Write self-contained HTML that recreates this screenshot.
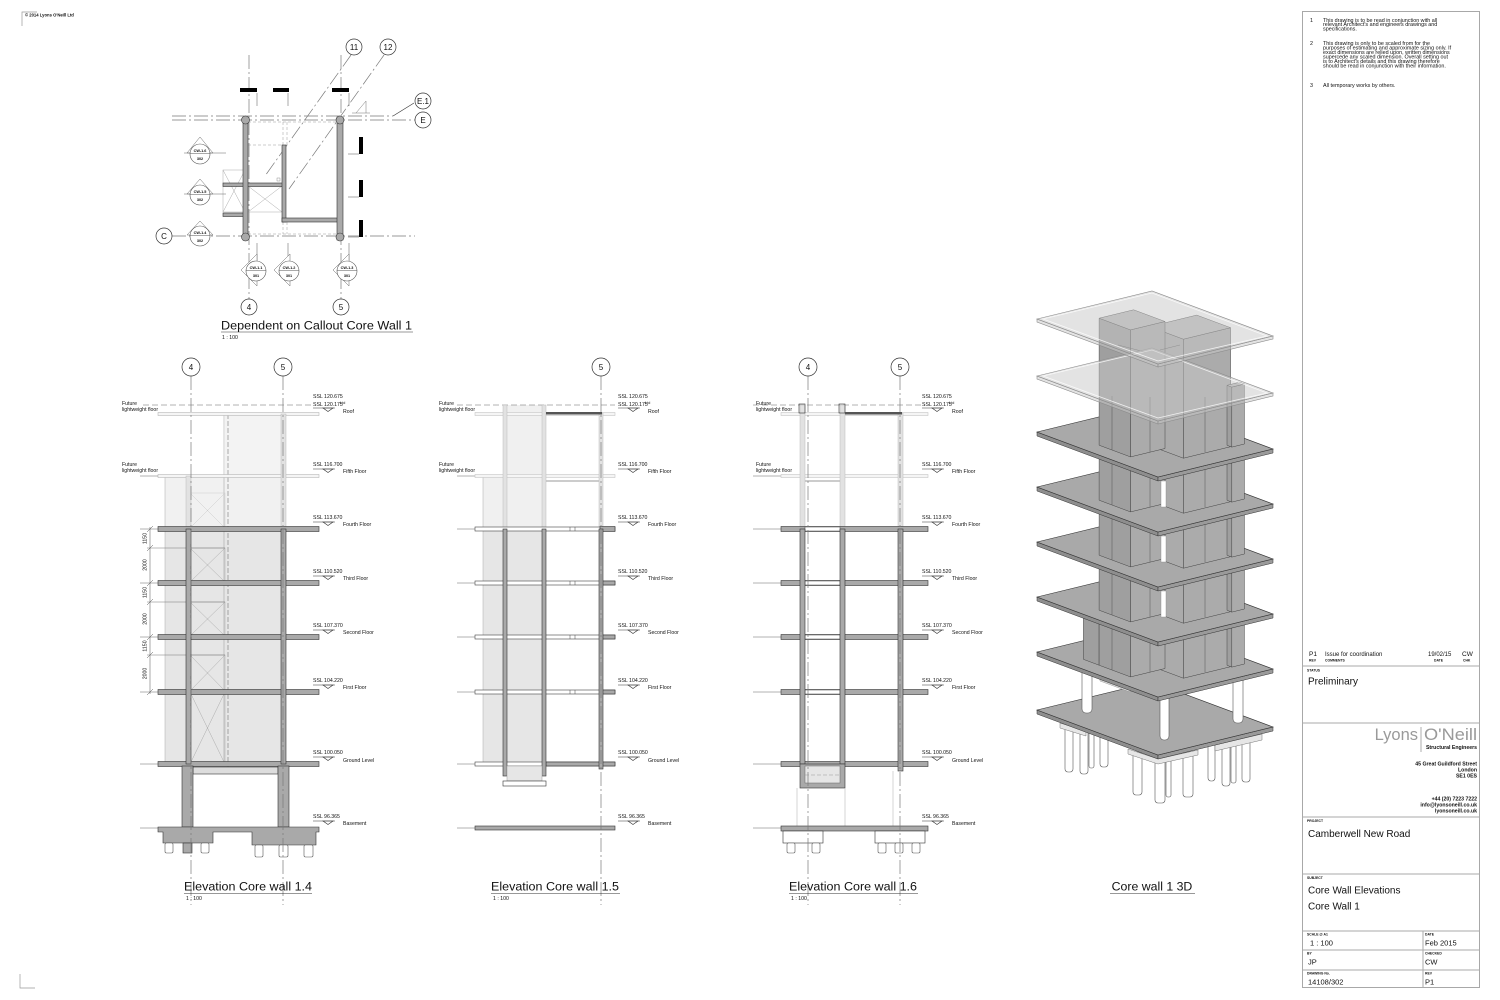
<!DOCTYPE html>
<html><head><meta charset="utf-8">
<style>
html,body{margin:0;padding:0;background:#fff;}
svg{display:block;}
text{font-family:"Liberation Sans",Arial,sans-serif;fill:#111;}
.g{stroke:#7a7a7a;stroke-width:0.7;fill:none;stroke-dasharray:14 3 2 3;}
.s{font-size:5.2px;}
.ln{stroke:#333;stroke-width:0.6;fill:none;}
.lt{stroke:#aaa;stroke-width:0.5;fill:none;}
.sl{fill:#a9a9a9;stroke:#333;stroke-width:0.6;}
.lw{fill:#e2e2e2;stroke:#bbb;stroke-width:0.5;}
.bub{fill:#fff;stroke:#333;stroke-width:0.7;}
.bt{font-size:8px;text-anchor:middle;}
.tiny{font-size:3.4px;font-weight:bold;}
.cw{font-size:3.8px;font-weight:bold;text-anchor:middle;}
.pile{fill:#fff;stroke:#555;stroke-width:0.6;}
.x{stroke:#aaa;stroke-width:0.5;fill:none;}
.st{fill:#a9a9a9;stroke:#333;stroke-width:0.6;}
.sf1{fill:#8e8e8e;stroke:#333;stroke-width:0.5;}
.sf2{fill:#9a9a9a;stroke:#333;stroke-width:0.5;}
.cA{fill:#9f9f9f;stroke:#444;stroke-width:0.5;}
.cB{fill:#ababab;stroke:#444;stroke-width:0.5;}
.cT{fill:#bdbdbd;stroke:#444;stroke-width:0.5;}
.tr{fill:#c8c8c8;fill-opacity:0.5;stroke:#8c8c8c;stroke-width:0.6;}
.tn{fill:none;stroke:#fff;stroke-width:0.8;stroke-opacity:0.8;}
.tw{stroke:#fff;stroke-width:0.6;fill:none;}
</style></head><body>
<svg width="1500" height="1000" viewBox="0 0 1500 1000" xmlns="http://www.w3.org/2000/svg">
<rect width="1500" height="1000" fill="#fff"/>

<!-- corner marks -->
<polyline points="22,26 22,12 37,12" fill="none" stroke="#999" stroke-width="0.7"/>
<text x="25" y="16.5" font-size="4.2" font-weight="bold">© 2014 Lyons O'Neill Ltd</text>
<polyline points="20,974 20,988 35,988" fill="none" stroke="#999" stroke-width="0.7"/>

<!-- ================= PLAN ================= -->
<g>
<line class="g" x1="172" y1="116" x2="393" y2="116"/>
<line class="ln" x1="393" y1="116" x2="414" y2="103"/>
<line class="g" x1="172" y1="120" x2="415" y2="120"/>
<line class="g" x1="172" y1="236" x2="415" y2="236"/>
<line class="g" x1="249" y1="55" x2="249" y2="299"/>
<line class="g" x1="341" y1="55" x2="341" y2="299"/>
<line class="g" x1="351" y1="55" x2="265" y2="176"/>
<line class="g" x1="384" y1="55" x2="289" y2="189"/>

<!-- interior dashed -->
<g stroke="#999" stroke-width="0.5" stroke-dasharray="3 2" fill="none">
<line x1="248" y1="122" x2="337" y2="122"/>
<line x1="248" y1="234" x2="337" y2="234"/>
<line x1="248" y1="145" x2="282" y2="145"/>
<line x1="283" y1="122" x2="283" y2="145"/>
<line x1="287" y1="122" x2="287" y2="145"/>
<line x1="283" y1="222" x2="283" y2="234"/>
<line x1="287" y1="222" x2="287" y2="234"/>
</g>
<!-- X boxes -->
<rect class="x" x="223" y="170" width="22" height="42"/>
<line class="x" x1="223" y1="170" x2="245" y2="212"/>
<line class="x" x1="245" y1="170" x2="223" y2="212"/>
<rect class="x" x="248" y="186" width="34" height="26"/>
<line class="x" x1="248" y1="186" x2="282" y2="212"/>
<line class="x" x1="282" y1="186" x2="248" y2="212"/>
<rect x="277" y="178" width="3" height="3" fill="none" stroke="#777" stroke-width="0.4"/>
<!-- walls -->
<rect class="sl" x="223" y="183" width="62" height="3.5"/>
<rect class="sl" x="223" y="213" width="22" height="3.5"/>
<rect class="sl" x="282" y="145" width="4" height="77"/>
<rect class="sl" x="282" y="218" width="58" height="4"/>
<rect class="sl" x="243" y="117" width="5" height="123"/>
<rect class="sl" x="337" y="117" width="6" height="123"/>
<circle cx="245.5" cy="120" r="4" class="sl"/>
<circle cx="245.5" cy="237" r="4" class="sl"/>
<circle cx="340" cy="120" r="4" class="sl"/>
<circle cx="340" cy="237" r="4" class="sl"/>
<!-- black bars -->
<rect x="240" y="88" width="17" height="4" fill="#000"/>
<rect x="273" y="88" width="16" height="4" fill="#000"/>
<rect x="332" y="88" width="17" height="4" fill="#000"/>
<rect x="359" y="137" width="4" height="17" fill="#000"/>
<rect x="359" y="180" width="4" height="17" fill="#000"/>
<rect x="359" y="220" width="4" height="17" fill="#000"/>
<g stroke="#555" stroke-width="0.5">
<line x1="257" y1="93" x2="257" y2="106"/>
<line x1="288" y1="93" x2="288" y2="106"/>
<line x1="349" y1="93" x2="349" y2="106"/>
<line x1="348" y1="154" x2="359" y2="154"/>
<line x1="348" y1="197" x2="359" y2="197"/>
<line x1="348" y1="237" x2="359" y2="237"/>
<line x1="257" y1="243" x2="257" y2="262"/>
<line x1="288" y1="243" x2="288" y2="262"/>
<line x1="349" y1="243" x2="349" y2="262"/>
</g>
<polyline points="356,113 366,101 366,113" fill="none" stroke="#777" stroke-width="0.5"/>
<line x1="352" y1="113" x2="370" y2="113" stroke="#777" stroke-width="0.5"/>

<!-- section markers left -->
<g>
<polygon points="187,153 200,137 213,153" fill="#fff" stroke="#666" stroke-width="0.5"/>
<line x1="184" y1="153" x2="226" y2="153" stroke="#666" stroke-width="0.5"/>
<circle cx="200" cy="154" r="10" fill="#fff" stroke="#555" stroke-width="0.6"/>
<line x1="190" y1="153.5" x2="210" y2="153.5" stroke="#555" stroke-width="0.5"/>
<text class="cw" x="200" y="152">CW-1.6</text><text class="cw" x="200" y="160">302</text>

<polygon points="187,194 200,179 213,194" fill="#fff" stroke="#666" stroke-width="0.5"/>
<line x1="184" y1="194" x2="226" y2="194" stroke="#666" stroke-width="0.5"/>
<circle cx="200" cy="195" r="10" fill="#fff" stroke="#555" stroke-width="0.6"/>
<line x1="190" y1="194.5" x2="210" y2="194.5" stroke="#555" stroke-width="0.5"/>
<text class="cw" x="200" y="193">CW-1.5</text><text class="cw" x="200" y="201">302</text>

<polygon points="187,235 200,221 213,235" fill="#fff" stroke="#666" stroke-width="0.5"/>
<circle cx="200" cy="236" r="10" fill="#fff" stroke="#555" stroke-width="0.6"/>
<line x1="190" y1="235.5" x2="210" y2="235.5" stroke="#555" stroke-width="0.5"/>
<text class="cw" x="200" y="234">CW-1.4</text><text class="cw" x="200" y="242">302</text>
</g>
<!-- section markers bottom -->
<g>
<polygon points="241,270 257,254 257,286" fill="#fff" stroke="#666" stroke-width="0.5"/>
<circle cx="256" cy="271" r="10" fill="#fff" stroke="#555" stroke-width="0.6"/>
<line x1="246" y1="270.5" x2="266" y2="270.5" stroke="#555" stroke-width="0.5"/>
<text class="cw" x="256" y="269">CW-1.1</text><text class="cw" x="256" y="277">301</text>

<polygon points="274,270 290,254 290,286" fill="#fff" stroke="#666" stroke-width="0.5"/>
<circle cx="289" cy="271" r="10" fill="#fff" stroke="#555" stroke-width="0.6"/>
<line x1="279" y1="270.5" x2="299" y2="270.5" stroke="#555" stroke-width="0.5"/>
<text class="cw" x="289" y="269">CW-1.2</text><text class="cw" x="289" y="277">301</text>

<polygon points="333,270 349,254 349,286" fill="#fff" stroke="#666" stroke-width="0.5"/>
<circle cx="347" cy="271" r="10" fill="#fff" stroke="#555" stroke-width="0.6"/>
<line x1="337" y1="270.5" x2="357" y2="270.5" stroke="#555" stroke-width="0.5"/>
<text class="cw" x="347" y="269">CW-1.3</text><text class="cw" x="347" y="277">301</text>
</g>
<!-- plan bubbles -->
<circle class="bub" cx="354" cy="47" r="8"/><text class="bt" x="354" y="50">11</text>
<circle class="bub" cx="388" cy="47" r="8"/><text class="bt" x="388" y="50">12</text>
<circle class="bub" cx="423" cy="101" r="8"/><text class="bt" x="423" y="104">E.1</text>
<circle class="bub" cx="423" cy="120" r="8"/><text class="bt" x="423" y="123">E</text>
<circle class="bub" cx="164" cy="236" r="8"/><text class="bt" x="164" y="239">C</text>
<circle class="bub" cx="249" cy="307" r="8"/><text class="bt" x="249" y="310">4</text>
<circle class="bub" cx="341" cy="307" r="8"/><text class="bt" x="341" y="310">5</text>

<text x="221" y="329.5" font-size="12.3" textLength="191" lengthAdjust="spacingAndGlyphs">Dependent on Callout Core Wall 1</text>
<line x1="221" y1="332" x2="413" y2="332" stroke="#333" stroke-width="0.6"/>
<text class="s" x="222" y="339">1 : 100</text>
</g>

<!-- ================= ELEVATION 1.4 ================= -->
<g>
<rect x="225" y="414" width="58" height="62" fill="#f3f3f3"/>
<rect x="165" y="476" width="118" height="53" fill="#f1f1f1"/>
<rect x="165" y="529" width="118" height="235" fill="#e6e6e6"/>
<line class="lt" x1="165" y1="476" x2="165" y2="764"/>
<line x1="224" y1="414" x2="224" y2="764" stroke="#999" stroke-width="0.5"/>
<line x1="228" y1="414" x2="228" y2="772" stroke="#777" stroke-width="0.6" stroke-dasharray="5 2"/>
<!-- X boxes -->
<g class="x">
<rect x="190" y="493" width="35" height="35" stroke="#ccc"/>
<line x1="190" y1="493" x2="225" y2="528" stroke="#ccc"/><line x1="225" y1="493" x2="190" y2="528" stroke="#ccc"/>
<rect x="190" y="548" width="35" height="34"/>
<line x1="190" y1="548" x2="225" y2="582"/><line x1="225" y1="548" x2="190" y2="582"/>
<rect x="190" y="602" width="35" height="34"/>
<line x1="190" y1="602" x2="225" y2="636"/><line x1="225" y1="602" x2="190" y2="636"/>
<rect x="190" y="655" width="35" height="36"/>
<line x1="190" y1="655" x2="225" y2="691"/><line x1="225" y1="655" x2="190" y2="691"/>
<rect x="190" y="692" width="35" height="72"/>
<line x1="190" y1="692" x2="225" y2="764"/><line x1="225" y1="692" x2="190" y2="764"/>
</g>
<!-- dimension -->
<g stroke="#555" stroke-width="0.5">
<line x1="150" y1="527" x2="150" y2="694"/>
<line x1="147" y1="548" x2="225" y2="548" stroke="#777"/>
<line x1="147" y1="602" x2="225" y2="602" stroke="#777"/>
<line x1="147" y1="655" x2="225" y2="655" stroke="#777"/>
<line x1="147" y1="532" x2="153" y2="526"/>
<line x1="147" y1="551" x2="153" y2="545"/>
<line x1="147" y1="586" x2="153" y2="580"/>
<line x1="147" y1="605" x2="153" y2="599"/>
<line x1="147" y1="640" x2="153" y2="634"/>
<line x1="147" y1="658" x2="153" y2="652"/>
<line x1="147" y1="695" x2="153" y2="689"/>
</g>
<g class="s" text-anchor="middle">
<text transform="translate(146.5,538.5) rotate(-90)">1150</text>
<text transform="translate(146.5,565) rotate(-90)">2000</text>
<text transform="translate(146.5,592.5) rotate(-90)">1150</text>
<text transform="translate(146.5,619) rotate(-90)">2000</text>
<text transform="translate(146.5,646) rotate(-90)">1150</text>
<text transform="translate(146.5,673.5) rotate(-90)">2000</text>
</g>
<!-- level extension lines -->
<g stroke="#666" stroke-width="0.5">
<line x1="140" y1="529" x2="158" y2="529"/>
<line x1="140" y1="583" x2="158" y2="583"/>
<line x1="140" y1="637" x2="158" y2="637"/>
<line x1="140" y1="692" x2="158" y2="692"/>
<line x1="140" y1="764" x2="158" y2="764"/>
<line x1="140" y1="828" x2="158" y2="828"/>
</g>
<line x1="143" y1="405" x2="313" y2="405" stroke="#666" stroke-width="0.5" stroke-dasharray="6 3"/>
<!-- light slabs -->
<rect x="158" y="412.5" width="161" height="3" fill="#f5f5f5" stroke="#aaa" stroke-width="0.5"/>
<rect x="158" y="474.5" width="161" height="3" fill="#f5f5f5" stroke="#aaa" stroke-width="0.5"/>
<!-- upper light walls -->
<rect class="lw" x="186" y="476" width="5" height="53"/>
<rect class="lw" x="281" y="414" width="5" height="115"/>
<!-- slabs -->
<rect class="sl" x="158" y="526.5" width="161" height="5"/>
<rect class="sl" x="158" y="580.5" width="161" height="5"/>
<rect class="sl" x="158" y="634.5" width="161" height="5"/>
<rect class="sl" x="158" y="689.5" width="161" height="5"/>
<rect class="sl" x="158" y="761.5" width="161" height="5"/>
<!-- walls -->
<rect class="sl" x="186" y="529" width="5" height="235"/>
<rect class="sl" x="281" y="529" width="5" height="235"/>
<!-- basement structure -->
<rect x="193" y="767" width="85" height="7" fill="#ddd" stroke="#333" stroke-width="0.6"/>
<rect class="sl" x="182" y="766" width="11" height="61"/>
<rect class="sl" x="278" y="766" width="11" height="61"/>
<polygon class="sl" points="158,827 319,827 319,832 316,832 316,845 252,845 252,832 213,832 213,843 163,843 163,832 158,832"/>
<rect class="pile" x="165" y="843" width="8" height="10" rx="1.5"/>
<rect class="sl" x="183" y="843" width="9" height="10"/>
<rect class="pile" x="201" y="843" width="8" height="10" rx="1.5"/>
<rect class="pile" x="255" y="845" width="8" height="12" rx="1.5"/>
<rect class="pile" x="279" y="845" width="9" height="12" rx="1.5"/>
<rect class="pile" x="304" y="845" width="9" height="12" rx="1.5"/>
<!-- grid -->
<line class="g" x1="191" y1="376" x2="191" y2="905"/>
<line class="g" x1="283" y1="376" x2="283" y2="905"/>
<circle class="bub" cx="191" cy="367" r="9"/><text class="bt" x="191" y="370">4</text>
<circle class="bub" cx="283" cy="367" r="9"/><text class="bt" x="283" y="370">5</text>
<!-- future text -->
<text class="s" x="122" y="405">Future</text>
<text class="s" x="122" y="411">lightweight floor</text>
<text class="s" x="122" y="466">Future</text>
<text class="s" x="122" y="472">lightweight floor</text>
<line x1="140" y1="476" x2="158" y2="476" stroke="#666" stroke-width="0.5"/>
<!-- title -->
<text x="184" y="890.5" font-size="12.3" textLength="128" lengthAdjust="spacingAndGlyphs">Elevation Core wall 1.4</text>
<line x1="184" y1="893.5" x2="312" y2="893.5" stroke="#333" stroke-width="0.6"/>
<text class="s" x="186" y="900">1 : 100</text>
</g>

<!-- level label sets -->
<g id="lv14">
<text class="s" x="313" y="398">SSL 120.675</text>
<text class="s" x="313" y="406">SSL 120.175</text>
<text x="340" y="404" font-size="4">Lid</text>
<line class="ln" x1="313" y1="408" x2="335" y2="408"/>
<path class="ln" d="M323,408 L333,408 L328,411.5 Z"/>
<text class="s" x="343" y="413">Roof</text>

<text class="s" x="313" y="466">SSL 116.700</text>
<line class="ln" x1="313" y1="469" x2="335" y2="469"/>
<path class="ln" d="M323,469 L333,469 L328,472.5 Z"/>
<text class="s" x="343" y="473">Fifth Floor</text>

<text class="s" x="313" y="519">SSL 113.670</text>
<line class="ln" x1="313" y1="522" x2="335" y2="522"/>
<path class="ln" d="M323,522 L333,522 L328,525.5 Z"/>
<text class="s" x="343" y="526">Fourth Floor</text>

<text class="s" x="313" y="573">SSL 110.520</text>
<line class="ln" x1="313" y1="576" x2="335" y2="576"/>
<path class="ln" d="M323,576 L333,576 L328,579.5 Z"/>
<text class="s" x="343" y="580">Third Floor</text>

<text class="s" x="313" y="627">SSL 107.370</text>
<line class="ln" x1="313" y1="630" x2="335" y2="630"/>
<path class="ln" d="M323,630 L333,630 L328,633.5 Z"/>
<text class="s" x="343" y="634">Second Floor</text>

<text class="s" x="313" y="682">SSL 104.220</text>
<line class="ln" x1="313" y1="685" x2="335" y2="685"/>
<path class="ln" d="M323,685 L333,685 L328,688.5 Z"/>
<text class="s" x="343" y="689">First Floor</text>

<text class="s" x="313" y="754">SSL 100.050</text>
<line class="ln" x1="313" y1="757" x2="335" y2="757"/>
<path class="ln" d="M323,757 L333,757 L328,760.5 Z"/>
<text class="s" x="343" y="762">Ground Level</text>

<text class="s" x="313" y="818">SSL 96.365</text>
<line class="ln" x1="313" y1="821" x2="335" y2="821"/>
<path class="ln" d="M323,821 L333,821 L328,824.5 Z"/>
<text class="s" x="343" y="825">Basement</text>
</g>

<g transform="translate(305,0)">
<text class="s" x="313" y="398">SSL 120.675</text>
<text class="s" x="313" y="406">SSL 120.175</text>
<text x="340" y="404" font-size="4">Lid</text>
<line class="ln" x1="313" y1="408" x2="335" y2="408"/>
<path class="ln" d="M323,408 L333,408 L328,411.5 Z"/>
<text class="s" x="343" y="413">Roof</text>
<text class="s" x="313" y="466">SSL 116.700</text>
<line class="ln" x1="313" y1="469" x2="335" y2="469"/>
<path class="ln" d="M323,469 L333,469 L328,472.5 Z"/>
<text class="s" x="343" y="473">Fifth Floor</text>
<text class="s" x="313" y="519">SSL 113.670</text>
<line class="ln" x1="313" y1="522" x2="335" y2="522"/>
<path class="ln" d="M323,522 L333,522 L328,525.5 Z"/>
<text class="s" x="343" y="526">Fourth Floor</text>
<text class="s" x="313" y="573">SSL 110.520</text>
<line class="ln" x1="313" y1="576" x2="335" y2="576"/>
<path class="ln" d="M323,576 L333,576 L328,579.5 Z"/>
<text class="s" x="343" y="580">Third Floor</text>
<text class="s" x="313" y="627">SSL 107.370</text>
<line class="ln" x1="313" y1="630" x2="335" y2="630"/>
<path class="ln" d="M323,630 L333,630 L328,633.5 Z"/>
<text class="s" x="343" y="634">Second Floor</text>
<text class="s" x="313" y="682">SSL 104.220</text>
<line class="ln" x1="313" y1="685" x2="335" y2="685"/>
<path class="ln" d="M323,685 L333,685 L328,688.5 Z"/>
<text class="s" x="343" y="689">First Floor</text>
<text class="s" x="313" y="754">SSL 100.050</text>
<line class="ln" x1="313" y1="757" x2="335" y2="757"/>
<path class="ln" d="M323,757 L333,757 L328,760.5 Z"/>
<text class="s" x="343" y="762">Ground Level</text>
<text class="s" x="313" y="818">SSL 96.365</text>
<line class="ln" x1="313" y1="821" x2="335" y2="821"/>
<path class="ln" d="M323,821 L333,821 L328,824.5 Z"/>
<text class="s" x="343" y="825">Basement</text>
</g>

<g transform="translate(609,0)">
<text class="s" x="313" y="398">SSL 120.675</text>
<text class="s" x="313" y="406">SSL 120.175</text>
<text x="340" y="404" font-size="4">Lid</text>
<line class="ln" x1="313" y1="408" x2="335" y2="408"/>
<path class="ln" d="M323,408 L333,408 L328,411.5 Z"/>
<text class="s" x="343" y="413">Roof</text>
<text class="s" x="313" y="466">SSL 116.700</text>
<line class="ln" x1="313" y1="469" x2="335" y2="469"/>
<path class="ln" d="M323,469 L333,469 L328,472.5 Z"/>
<text class="s" x="343" y="473">Fifth Floor</text>
<text class="s" x="313" y="519">SSL 113.670</text>
<line class="ln" x1="313" y1="522" x2="335" y2="522"/>
<path class="ln" d="M323,522 L333,522 L328,525.5 Z"/>
<text class="s" x="343" y="526">Fourth Floor</text>
<text class="s" x="313" y="573">SSL 110.520</text>
<line class="ln" x1="313" y1="576" x2="335" y2="576"/>
<path class="ln" d="M323,576 L333,576 L328,579.5 Z"/>
<text class="s" x="343" y="580">Third Floor</text>
<text class="s" x="313" y="627">SSL 107.370</text>
<line class="ln" x1="313" y1="630" x2="335" y2="630"/>
<path class="ln" d="M323,630 L333,630 L328,633.5 Z"/>
<text class="s" x="343" y="634">Second Floor</text>
<text class="s" x="313" y="682">SSL 104.220</text>
<line class="ln" x1="313" y1="685" x2="335" y2="685"/>
<path class="ln" d="M323,685 L333,685 L328,688.5 Z"/>
<text class="s" x="343" y="689">First Floor</text>
<text class="s" x="313" y="754">SSL 100.050</text>
<line class="ln" x1="313" y1="757" x2="335" y2="757"/>
<path class="ln" d="M323,757 L333,757 L328,760.5 Z"/>
<text class="s" x="343" y="762">Ground Level</text>
<text class="s" x="313" y="818">SSL 96.365</text>
<line class="ln" x1="313" y1="821" x2="335" y2="821"/>
<path class="ln" d="M323,821 L333,821 L328,824.5 Z"/>
<text class="s" x="343" y="825">Basement</text>
</g>

<!-- ================= ELEVATION 1.5 ================= -->
<g>
<rect x="483" y="529" width="62" height="235" fill="#e6e6e6"/>
<rect x="483" y="476" width="62" height="53" fill="#f0f0f0"/>
<rect x="503" y="405" width="42" height="71" fill="#f0f0f0"/>
<line class="lt" x1="483" y1="476" x2="483" y2="764"/>
<g stroke="#666" stroke-width="0.5">
<line x1="457" y1="529" x2="475" y2="529"/>
<line x1="457" y1="583" x2="475" y2="583"/>
<line x1="457" y1="637" x2="475" y2="637"/>
<line x1="457" y1="692" x2="475" y2="692"/>
<line x1="457" y1="764" x2="475" y2="764"/>
<line x1="457" y1="828" x2="475" y2="828"/>
<line x1="457" y1="476" x2="475" y2="476"/>
</g>
<line x1="457" y1="405" x2="615" y2="405" stroke="#666" stroke-width="0.5" stroke-dasharray="6 3"/>
<rect x="475" y="412.5" width="140" height="3" fill="#f5f5f5" stroke="#bbb" stroke-width="0.5"/>
<rect x="475" y="474.5" width="140" height="3" fill="#f5f5f5" stroke="#bbb" stroke-width="0.5"/>
<line x1="546" y1="481" x2="599" y2="481" stroke="#bbb" stroke-width="1.5"/>
<rect class="lw" x="503" y="405" width="4" height="124"/>
<rect class="lw" x="542" y="405" width="4" height="124"/>
<rect class="lw" x="599" y="413" width="4" height="116"/>
<rect x="546" y="412" width="56" height="2.5" fill="#555"/>
<!-- slabs -->
<g>
<rect x="475" y="527" width="140" height="4" fill="#fff" stroke="#444" stroke-width="0.6"/>
<rect x="475" y="581" width="140" height="4" fill="#fff" stroke="#444" stroke-width="0.6"/>
<rect x="475" y="635" width="140" height="4" fill="#fff" stroke="#444" stroke-width="0.6"/>
<rect x="475" y="690" width="140" height="4" fill="#fff" stroke="#444" stroke-width="0.6"/>
<rect x="475" y="762" width="140" height="4" fill="#fff" stroke="#444" stroke-width="0.6"/>
<rect class="sl" x="600" y="526.5" width="15" height="5"/>
<rect class="sl" x="600" y="581" width="15" height="4"/>
<rect class="sl" x="600" y="635" width="15" height="4"/>
<rect class="sl" x="600" y="690" width="15" height="4"/>
<rect class="sl" x="546" y="762" width="69" height="4"/>
</g>
<g stroke="#444" stroke-width="0.5">
<line x1="570" y1="527" x2="570" y2="531"/><line x1="575" y1="527" x2="575" y2="531"/>
<line x1="570" y1="581" x2="570" y2="585"/><line x1="575" y1="581" x2="575" y2="585"/>
<line x1="570" y1="635" x2="570" y2="639"/><line x1="575" y1="635" x2="575" y2="639"/>
<line x1="570" y1="690" x2="570" y2="694"/><line x1="575" y1="690" x2="575" y2="694"/>
</g>
<rect class="sl" x="503" y="529" width="4" height="247"/>
<rect class="sl" x="542" y="529" width="4" height="247"/>
<rect class="sl" x="599" y="529" width="4" height="240"/>
<rect x="507" y="766" width="35" height="15" fill="#e6e6e6" stroke="#999" stroke-width="0.5"/>
<rect x="503" y="781" width="43" height="5" fill="#fff" stroke="#333" stroke-width="0.6"/>
<rect class="sl" x="475" y="826" width="140" height="4"/>
<line class="g" x1="601" y1="376" x2="601" y2="905"/>
<circle class="bub" cx="601" cy="367" r="9"/><text class="bt" x="601" y="370">5</text>
<text class="s" x="439" y="405">Future</text>
<text class="s" x="439" y="411">lightweight floor</text>
<text class="s" x="439" y="466">Future</text>
<text class="s" x="439" y="472">lightweight floor</text>
<text x="491" y="890.5" font-size="12.3" textLength="128" lengthAdjust="spacingAndGlyphs">Elevation Core wall 1.5</text>
<line x1="491" y1="893.5" x2="620" y2="893.5" stroke="#333" stroke-width="0.6"/>
<text class="s" x="493" y="900">1 : 100</text>
</g>

<!-- ================= ELEVATION 1.6 ================= -->
<g>
<g stroke="#666" stroke-width="0.5">
<line x1="753" y1="529" x2="781" y2="529"/>
<line x1="753" y1="583" x2="781" y2="583"/>
<line x1="753" y1="637" x2="781" y2="637"/>
<line x1="753" y1="692" x2="781" y2="692"/>
<line x1="753" y1="764" x2="781" y2="764"/>
<line x1="753" y1="828" x2="781" y2="828"/>
<line x1="753" y1="476" x2="781" y2="476"/>
</g>
<line x1="753" y1="405" x2="925" y2="405" stroke="#666" stroke-width="0.5" stroke-dasharray="6 3"/>
<rect x="781" y="412.5" width="147" height="3" fill="#f5f5f5" stroke="#bbb" stroke-width="0.5"/>
<rect x="781" y="474.5" width="147" height="3" fill="#f5f5f5" stroke="#bbb" stroke-width="0.5"/>
<line x1="805" y1="481" x2="840" y2="481" stroke="#bbb" stroke-width="1.5"/>
<rect class="lw" x="800" y="405" width="5" height="124"/>
<rect class="lw" x="840" y="405" width="5" height="124"/>
<rect class="lw" x="898" y="413" width="5" height="116"/>
<rect x="799" y="404" width="6" height="9" fill="none" stroke="#333" stroke-width="0.6"/>
<rect x="839" y="404" width="6" height="9" fill="none" stroke="#333" stroke-width="0.6"/>
<rect x="845" y="412" width="57" height="2.5" fill="#555"/>
<!-- slabs -->
<rect class="sl" x="781" y="526.5" width="147" height="5"/>
<rect class="sl" x="781" y="580.5" width="147" height="5"/>
<rect class="sl" x="781" y="634.5" width="147" height="5"/>
<rect class="sl" x="781" y="689.5" width="147" height="5"/>
<rect class="sl" x="781" y="761.5" width="147" height="5"/>
<rect x="805" y="581" width="35" height="4" fill="#fff" stroke="#444" stroke-width="0.5"/>
<rect x="805" y="635" width="35" height="4" fill="#fff" stroke="#444" stroke-width="0.5"/>
<rect x="805" y="690" width="35" height="4" fill="#fff" stroke="#444" stroke-width="0.5"/>
<rect x="805" y="527" width="35" height="4" fill="#fff" stroke="#444" stroke-width="0.5"/>
<!-- walls -->
<rect class="sl" x="800" y="529" width="5" height="235"/>
<rect class="sl" x="840" y="529" width="5" height="235"/>
<rect class="sl" x="898" y="529" width="5" height="242"/>
<rect class="sl" x="800" y="764" width="45" height="24"/>
<rect x="805" y="766" width="35" height="17" fill="#e6e6e6" stroke="#666" stroke-width="0.5"/>
<line x1="805" y1="775" x2="840" y2="775" stroke="#999" stroke-width="0.5" stroke-dasharray="4 2"/>
<g stroke="#bbb" stroke-width="0.6">
<line x1="797" y1="788" x2="797" y2="826"/>
<line x1="845" y1="788" x2="845" y2="826"/>
<line x1="893" y1="771" x2="893" y2="826"/>
</g>
<rect class="sl" x="781" y="826" width="147" height="5"/>
<rect x="783" y="831" width="40" height="12" fill="#fff" stroke="#333" stroke-width="0.6"/>
<rect x="875" y="831" width="50" height="12" fill="#fff" stroke="#333" stroke-width="0.6"/>
<rect class="pile" x="787" y="843" width="8" height="10" rx="1.5"/>
<rect class="pile" x="812" y="843" width="8" height="10" rx="1.5"/>
<rect class="pile" x="878" y="843" width="8" height="10" rx="1.5"/>
<rect class="pile" x="895" y="843" width="8" height="10" rx="1.5"/>
<rect class="pile" x="912" y="843" width="8" height="10" rx="1.5"/>
<line class="g" x1="808" y1="376" x2="808" y2="905"/>
<line class="g" x1="900" y1="376" x2="900" y2="905"/>
<circle class="bub" cx="808" cy="367" r="9"/><text class="bt" x="808" y="370">4</text>
<circle class="bub" cx="900" cy="367" r="9"/><text class="bt" x="900" y="370">5</text>
<text class="s" x="756" y="405">Future</text>
<text class="s" x="756" y="411">lightweight floor</text>
<text class="s" x="756" y="466">Future</text>
<text class="s" x="756" y="472">lightweight floor</text>
<text x="789" y="890.5" font-size="12.3" textLength="128" lengthAdjust="spacingAndGlyphs">Elevation Core wall 1.6</text>
<line x1="789" y1="893.5" x2="918" y2="893.5" stroke="#333" stroke-width="0.6"/>
<text class="s" x="791" y="900">1 : 100</text>
</g>

<!-- ================= 3D ================= -->
<g>
<!-- piles & caps -->
<rect class="pile" x="1065" y="726" width="8" height="46" rx="3"/>
<rect class="pile" x="1080" y="726" width="8" height="48" rx="3"/>
<rect class="pile" x="1089" y="726" width="5" height="42" rx="2"/>
<rect class="pile" x="1100" y="726" width="8" height="41" rx="3"/>
<polygon points="1060,723 1086,731 1086,736 1060,728" fill="#e6e6e6" stroke="#777" stroke-width="0.5"/>
<rect class="pile" x="1133" y="752" width="9" height="43" rx="3"/>
<rect class="pile" x="1155" y="752" width="10" height="51" rx="3"/>
<rect class="pile" x="1166" y="752" width="5" height="45" rx="2"/>
<rect class="pile" x="1183" y="752" width="10" height="45" rx="3"/>
<polygon points="1128,749 1158,759 1198,750 1198,755 1158,764 1128,754" fill="#e6e6e6" stroke="#777" stroke-width="0.5"/>
<rect class="pile" x="1208" y="742" width="7" height="39" rx="3"/>
<rect class="pile" x="1222" y="742" width="8" height="44" rx="3"/>
<rect class="pile" x="1231" y="742" width="5" height="41" rx="2"/>
<rect class="pile" x="1242" y="736" width="8" height="46" rx="3"/>
<polygon points="1215,745 1262,734 1262,740 1215,751" fill="#e6e6e6" stroke="#777" stroke-width="0.5"/>

<!-- O6 basement slab -->
<polygon class="sf1" points="1037,710 1158,755 1158,759 1037,714"/>
<polygon class="sf2" points="1158,755 1273,727 1273,731 1158,759"/>
<polygon class="st" points="1037,710 1152,682 1273,727 1158,755"/>
<!-- pillars -->
<polygon points="1100,678 1130,689 1130,692 1100,681" fill="#ddd" stroke="#888" stroke-width="0.4"/>
<rect class="pile" x="1082" y="660" width="10" height="53" rx="4"/>
<rect class="pile" x="1160" y="690" width="9" height="50" rx="4"/>
<rect class="pile" x="1233" y="670" width="10" height="53" rx="4"/>
<!-- O5 ground slab -->
<polygon class="sf1" points="1037,652 1158,697 1158,701 1037,656"/>
<polygon class="sf2" points="1158,697 1273,669 1273,673 1158,701"/>
<polygon class="st" points="1037,652 1152,624 1273,669 1158,697"/>
<!-- segment 652 -->
<polygon class="cB" points="1149.6,665.6 1183.4,678.2 1183.4,623.2 1149.6,610.6"/>
<polygon class="cB" points="1183.4,678.2 1230.6,666.7 1230.6,611.7 1183.4,623.2"/>
<polygon class="cA" points="1227,665.3 1231.8,667.1 1231.8,612.1 1227,610.3"/>
<polygon class="cB" points="1231.8,667.1 1244.4,664 1244.4,609 1231.8,612.1"/>
<polygon class="cA" points="1083.4,659.3 1099.1,665.2 1099.1,610.2 1083.4,604.3"/>
<polygon class="cA" points="1099.1,665.2 1130.5,676.9 1130.5,621.9 1099.1,610.2"/>
<polygon class="cB" points="1130.5,676.9 1165,668.5 1165,613.5 1130.5,621.9"/>
<g stroke="#555" stroke-width="0.5"><line x1="1112" y1="616" x2="1112" y2="670"/><line x1="1150" y1="617" x2="1150" y2="672"/><line x1="1205" y1="617" x2="1205" y2="672"/></g>
<!-- O4 -->
<polygon class="sf1" points="1037,597 1158,642 1158,646 1037,601"/>
<polygon class="sf2" points="1158,642 1273,614 1273,618 1158,646"/>
<polygon class="st" points="1037,597 1152,569 1273,614 1158,642"/>
<!-- segment 597 -->
<polygon class="cB" points="1149.6,610.6 1183.4,623.2 1183.4,568.2 1149.6,555.6"/>
<polygon class="cB" points="1183.4,623.2 1230.6,611.7 1230.6,556.7 1183.4,568.2"/>
<polygon class="cA" points="1227,610.3 1231.8,612.1 1231.8,557.1 1227,555.3"/>
<polygon class="cB" points="1231.8,612.1 1244.4,609 1244.4,554 1231.8,557.1"/>
<polygon class="cA" points="1099.1,610.2 1130.5,621.9 1130.5,566.9 1099.1,555.2"/>
<polygon class="cB" points="1130.5,621.9 1165,613.5 1165,558.5 1130.5,566.9"/>
<g stroke="#555" stroke-width="0.5"><line x1="1112" y1="561" x2="1112" y2="615"/><line x1="1150" y1="562" x2="1150" y2="617"/><line x1="1205" y1="562" x2="1205" y2="617"/></g>
<rect x="1161" y="591" width="5" height="26" fill="#fff" stroke="#888" stroke-width="0.4"/>
<!-- O3 -->
<polygon class="sf1" points="1037,542 1158,587 1158,591 1037,546"/>
<polygon class="sf2" points="1158,587 1273,559 1273,563 1158,591"/>
<polygon class="st" points="1037,542 1152,514 1273,559 1158,587"/>
<!-- segment 542 -->
<polygon class="cB" points="1149.6,555.6 1183.4,568.2 1183.4,513.2 1149.6,500.6"/>
<polygon class="cB" points="1183.4,568.2 1230.6,556.7 1230.6,501.7 1183.4,513.2"/>
<polygon class="cA" points="1227,555.3 1231.8,557.1 1231.8,502.1 1227,500.3"/>
<polygon class="cB" points="1231.8,557.1 1244.4,554 1244.4,499 1231.8,502.1"/>
<polygon class="cA" points="1099.1,555.2 1130.5,566.9 1130.5,511.9 1099.1,500.2"/>
<polygon class="cB" points="1130.5,566.9 1165,558.5 1165,503.5 1130.5,511.9"/>
<g stroke="#555" stroke-width="0.5"><line x1="1112" y1="506" x2="1112" y2="560"/><line x1="1150" y1="507" x2="1150" y2="562"/><line x1="1205" y1="507" x2="1205" y2="562"/></g>
<rect x="1161" y="536" width="5" height="26" fill="#fff" stroke="#888" stroke-width="0.4"/>
<!-- O2 -->
<polygon class="sf1" points="1037,487 1158,532 1158,536 1037,491"/>
<polygon class="sf2" points="1158,532 1273,504 1273,508 1158,536"/>
<polygon class="st" points="1037,487 1152,459 1273,504 1158,532"/>
<!-- segment 487 -->
<polygon class="cB" points="1149.6,500.6 1183.4,513.2 1183.4,458.2 1149.6,445.6"/>
<polygon class="cB" points="1183.4,513.2 1230.6,501.7 1230.6,446.7 1183.4,458.2"/>
<polygon class="cA" points="1227,500.3 1231.8,502.1 1231.8,447.1 1227,445.3"/>
<polygon class="cB" points="1231.8,502.1 1244.4,499 1244.4,444 1231.8,447.1"/>
<polygon class="cA" points="1099.1,500.2 1130.5,511.9 1130.5,456.9 1099.1,445.2"/>
<polygon class="cB" points="1130.5,511.9 1165,503.5 1165,448.5 1130.5,456.9"/>
<g stroke="#555" stroke-width="0.5"><line x1="1112" y1="451" x2="1112" y2="505"/><line x1="1150" y1="452" x2="1150" y2="507"/><line x1="1205" y1="452" x2="1205" y2="507"/></g>
<rect x="1161" y="481" width="5" height="26" fill="#fff" stroke="#888" stroke-width="0.4"/>
<!-- O1 -->
<polygon class="sf1" points="1037,432 1158,477 1158,481 1037,436"/>
<polygon class="sf2" points="1158,477 1273,449 1273,453 1158,481"/>
<polygon class="st" points="1037,432 1152,404 1273,449 1158,477"/>
<!-- top segment -->
<polygon class="cB" points="1149.6,445.6 1183.4,458.2 1183.4,339.2 1149.6,326.6"/>
<polygon class="cB" points="1183.4,458.2 1230.6,446.7 1230.6,327.7 1183.4,339.2"/>
<polygon class="cT" points="1149.6,326.6 1183.4,339.2 1230.6,327.7 1196.7,315.1"/>
<polygon class="cA" points="1227,445.3 1231.8,447.1 1231.8,387.1 1227,385.3"/>
<polygon class="cB" points="1231.8,447.1 1244.4,444 1244.4,384 1231.8,387.1"/>
<polygon class="cT" points="1227,385.3 1231.8,387.1 1244.4,384 1239.6,382.2"/>
<polygon class="cA" points="1099.1,445.2 1130.5,456.9 1130.5,329.9 1099.1,318.2"/>
<polygon class="cB" points="1130.5,456.9 1165,448.5 1165,321.5 1130.5,329.9"/>
<polygon class="cT" points="1099.1,318.2 1130.5,329.9 1165,321.5 1133.6,309.8"/>
<g stroke="#555" stroke-width="0.5"><line x1="1112" y1="396" x2="1112" y2="450"/><line x1="1150" y1="397" x2="1150" y2="452"/><line x1="1205" y1="397" x2="1205" y2="452"/><line x1="1118" y1="345" x2="1145" y2="352"/><line x1="1160" y1="350" x2="1180" y2="345"/></g>
<!-- transparent slabs -->
<polygon class="tr" points="1037,376 1158,421 1158,424 1037,379"/>
<polygon class="tr" points="1158,421 1273,393 1273,396 1158,424"/>
<polygon class="tr" points="1037,376 1152,348 1273,393 1158,421"/>
<polygon class="tn" points="1043,376 1152,350 1267,393 1158,418"/>
<polygon class="tr" points="1037,319 1158,364 1158,367 1037,322"/>
<polygon class="tr" points="1158,364 1273,336 1273,339 1158,367"/>
<polygon class="tr" points="1037,319 1152,291 1273,336 1158,364"/>
<polygon class="tn" points="1043,319 1152,293 1267,336 1158,361"/>
<text x="1152" y="890.5" font-size="12.3" text-anchor="middle">Core wall 1 3D</text>
<line x1="1110" y1="893.5" x2="1195" y2="893.5" stroke="#333" stroke-width="0.6"/>
</g>

<!-- ================= TITLE BLOCK ================= -->
<g>
<rect x="1302.5" y="11.5" width="177" height="976" fill="none" stroke="#a8a8a8" stroke-width="1"/>
<g font-size="5.4">
<text x="1310" y="21.8">1</text>
<text x="1323" y="21.8">This drawing is to be read in conjunction with all</text>
<text x="1323" y="26.2">relevant Architect's and engineers drawings and</text>
<text x="1323" y="30.7">specifications.</text>
<text x="1310" y="45.1">2</text>
<text x="1323" y="45.1">This drawing is only to be scaled from for the</text>
<text x="1323" y="49.5">purposes of estimating and approximate sizing only. If</text>
<text x="1323" y="54">exact dimensions are relied upon, written dimensions</text>
<text x="1323" y="58.5">supercede any scaled dimension. Overall setting out</text>
<text x="1323" y="62.9">is to Architect's details and this drawing therefore</text>
<text x="1323" y="67.4">should be read in conjunction with their information.</text>
<text x="1310" y="86.8">3</text>
<text x="1323" y="86.8">All temporary works by others.</text>
</g>
<text x="1309" y="656" font-size="6.5">P1</text>
<text x="1325" y="656" font-size="6">Issue for coordination</text>
<text x="1428" y="656" font-size="6">19/02/15</text>
<text x="1462" y="656" font-size="6.5">CW</text>
<text class="tiny" x="1309" y="661.5">REV</text>
<text class="tiny" x="1325" y="661.5">COMMENTS</text>
<text class="tiny" x="1434" y="661.5">DATE</text>
<text class="tiny" x="1463" y="661.5">CHK</text>
<g stroke="#aaa" stroke-width="1">
<line x1="1302" y1="666" x2="1480" y2="666"/>
<line x1="1302" y1="723" x2="1480" y2="723"/>
<line x1="1302" y1="817" x2="1480" y2="817"/>
<line x1="1302" y1="874" x2="1480" y2="874"/>
<line x1="1302" y1="931" x2="1480" y2="931"/>
<line x1="1302" y1="950" x2="1480" y2="950"/>
<line x1="1302" y1="970" x2="1480" y2="970"/>
<line x1="1423" y1="931" x2="1423" y2="988"/>
</g>
<text class="tiny" x="1307" y="671.5">STATUS</text>
<text x="1308" y="684.5" font-size="10">Preliminary</text>
<text x="1418" y="740" font-size="16.5" fill="#9a9a9a" style="fill:#9a9a9a" text-anchor="end">Lyons</text>
<line x1="1421" y1="727" x2="1421" y2="752" stroke="#999" stroke-width="0.8"/>
<text x="1424" y="740" font-size="16.5" style="fill:#9a9a9a" textLength="53" lengthAdjust="spacingAndGlyphs">O'Neill</text>
<text x="1477" y="749" font-size="5.2" font-weight="bold" text-anchor="end">Structural Engineers</text>
<g font-size="5.2" text-anchor="end" font-weight="bold">
<text x="1477" y="765.5">45 Great Guildford Street</text>
<text x="1477" y="771.5">London</text>
<text x="1477" y="777.5">SE1 0ES</text>
<text x="1477" y="800.5">+44 (20) 7223 7222</text>
<text x="1477" y="806.5">info@lyonsoneill.co.uk</text>
<text x="1477" y="812.5">lyonsoneill.co.uk</text>
</g>
<text class="tiny" x="1307" y="822">PROJECT</text>
<text x="1308" y="837" font-size="10">Camberwell New Road</text>
<text class="tiny" x="1307" y="879">SUBJECT</text>
<text x="1308" y="893.5" font-size="10">Core Wall Elevations</text>
<text x="1308" y="909.5" font-size="10">Core Wall 1</text>
<text class="tiny" x="1307" y="935.5">SCALE @ A1</text>
<text x="1310" y="945.5" font-size="7.5">1 : 100</text>
<text class="tiny" x="1425" y="935.5">DATE</text>
<text x="1425" y="945.5" font-size="7.5">Feb 2015</text>
<text class="tiny" x="1307" y="954.5">BY</text>
<text x="1308" y="964.5" font-size="7.5">JP</text>
<text class="tiny" x="1425" y="954.5">CHECKED</text>
<text x="1425" y="964.5" font-size="7.5">CW</text>
<text class="tiny" x="1307" y="974.5">DRAWING No.</text>
<text x="1308" y="984.5" font-size="7.5">14108/302</text>
<text class="tiny" x="1425" y="974.5">REV</text>
<text x="1425" y="984.5" font-size="7.5">P1</text>
</g>
</svg>
</body></html>
